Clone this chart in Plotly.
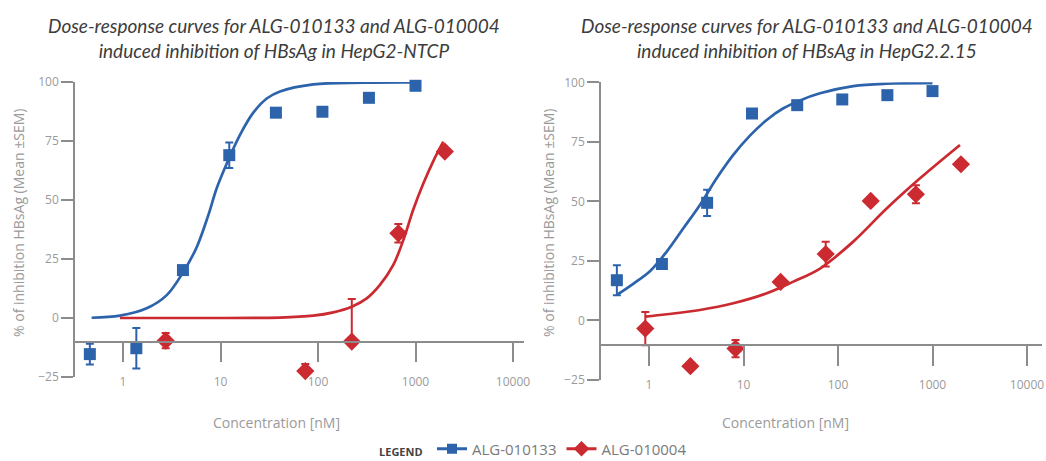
import math
import plotly.graph_objects as go

W, H = 1046, 461

# ---------------- data ----------------
conc_133 = [0.457, 1.37, 4.12, 12.3, 37.0, 111, 333, 1000]
conc_004 = [0.914, 2.74, 8.23, 24.7, 74.1, 222, 667, 2000]

# HepG2-NTCP
ntcp_133_y = [-15.3, -12.8, 20.3, 69.0, 87.0, 87.4, 93.3, 98.4]
ntcp_133_sem = [4.4, 8.6, 0, 5.4, 0, 0, 0, 0]
ntcp_004_x = [2.74, 74.1, 222, 667, 2000]
ntcp_004_y = [-9.6, -22.5, -10.0, 35.9, 70.5]
ntcp_004_sem_plus = [3.2, 3.0, 18.0, 3.9, 0]
ntcp_004_sem_minus = [3.2, 3.0, 0, 3.9, 0]

ntcp_133_fit_x = [0.477, 0.93, 1.75, 2.81, 4.15, 5.70, 7.50, 9.14, 11.6, 15.8, 21.7, 29.8, 40.7, 89.5, 292, 1000]
ntcp_133_fit_y = [0.1, 1.0, 4.1, 9.7, 19.5, 30.0, 43.6, 55.0, 65.5, 77.5, 87.0, 93.0, 96.0, 99.0, 99.7, 99.8]
ntcp_004_fit_x = [0.93, 6.2, 40.7, 89.5, 143.5, 222, 316, 432, 592, 750, 949, 1203, 1523, 1928]
ntcp_004_fit_y = [0.0, 0.0, 0.2, 1.0, 2.4, 4.8, 8.3, 14.0, 22.5, 33.0, 46.0, 57.0, 66.5, 74.7]

# HepG2.2.15
hep_133_y = [16.9, 23.7, 49.4, 86.9, 90.4, 92.8, 94.6, 96.3]
hep_133_sem = [6.3, 0, 5.5, 0, 0, 0, 0, 0]
hep_004_y = [-3.4, -19.2, -11.8, 16.2, 27.9, 50.2, 53.0, 65.6]
hep_004_sem = [7.0, 0, 3.6, 0, 5.2, 0, 3.8, 0]

hep_133_fit_x = [0.455, 0.68, 1.03, 1.54, 2.31, 3.46, 5.2, 7.8, 11.7, 17.6, 26.4, 39.6, 64.5, 145, 327, 1000]
hep_133_fit_y = [10.7, 15.4, 20.8, 28.9, 38.7, 48.5, 59.7, 69.5, 77.6, 84.2, 89.1, 92.4, 95.4, 98.4, 99.4, 99.6]
hep_004_fit_x = [0.914, 1.54, 3.46, 7.8, 17.6, 33.7, 64.5, 145, 327, 738, 1954]
hep_004_fit_y = [1.6, 2.6, 4.4, 7.2, 11.4, 16.3, 21.8, 33.1, 47.0, 59.7, 73.7]

names = ["ALG-010133", "ALG-010004"]
titles = [
    "Dose-response curves for ALG-010133 and ALG-010004<br>induced inhibition of HBsAg in HepG2-NTCP",
    "Dose-response curves for ALG-010133 and ALG-010004<br>induced inhibition of HBsAg in HepG2.2.15",
]
x_ticks = [1, 10, 100, 1000, 10000]
x_tick_text = ["1", "10", "100", "1000", "10000"]
y_ticks = [-25, 0, 25, 50, 75, 100]
y_title = "% of inhibition HBsAg (Mean ±SEM)"
x_title = "Concentration [nM]"

BLUE = "#2d63ab"
RED = "#cb2a30"
AX = "#8c8c8c"
TXT = "#9a9a9a"


def fx(px):
    return px / W


def fy(py):
    return 1 - py / H


fig = go.Figure()


def add_panel(xa, ya, d133, s133, x004, d004, s004p, s004m, f133x, f133y, f004x, f004y):
    fig.add_trace(go.Scatter(x=f133x, y=f133y, mode="lines", line=dict(color=BLUE, width=2.7, shape="spline", smoothing=1.0),
                             xaxis=xa, yaxis=ya, showlegend=False, hoverinfo="skip"))
    fig.add_trace(go.Scatter(x=f004x, y=f004y, mode="lines", line=dict(color=RED, width=2.7, shape="spline", smoothing=1.0),
                             xaxis=xa, yaxis=ya, showlegend=False, hoverinfo="skip"))
    fig.add_trace(go.Scatter(x=conc_133, y=d133, mode="markers",
                             marker=dict(symbol="square", size=12, color=BLUE),
                             error_y=dict(type="data", array=s133, color=BLUE, thickness=2, width=4),
                             xaxis=xa, yaxis=ya, showlegend=False, cliponaxis=False))
    fig.add_trace(go.Scatter(x=x004, y=d004, mode="markers",
                             marker=dict(symbol="diamond", size=14, color=RED),
                             error_y=dict(type="data", symmetric=False, array=s004p, arrayminus=s004m,
                                          color=RED, thickness=2, width=4),
                             xaxis=xa, yaxis=ya, showlegend=False, cliponaxis=False))


add_panel("x", "y", ntcp_133_y, ntcp_133_sem, ntcp_004_x, ntcp_004_y, ntcp_004_sem_plus, ntcp_004_sem_minus,
          ntcp_133_fit_x, ntcp_133_fit_y, ntcp_004_fit_x, ntcp_004_fit_y)
add_panel("x2", "y2", hep_133_y, hep_133_sem, conc_004, hep_004_y, hep_004_sem, hep_004_sem,
          hep_133_fit_x, hep_133_fit_y, hep_004_fit_x, hep_004_fit_y)

# legend entries
fig.add_trace(go.Scatter(x=[None], y=[None], mode="lines+markers", name=names[0],
                         line=dict(color=BLUE, width=3), marker=dict(symbol="square", size=10, color=BLUE)))
fig.add_trace(go.Scatter(x=[None], y=[None], mode="lines+markers", name=names[1],
                         line=dict(color=RED, width=3), marker=dict(symbol="diamond", size=12, color=RED)))

tickfont = dict(family="Open Sans", size=12, color=TXT)

# panel geometry (pixels)
panels = [
    dict(x0=75, x1=524, one=123, dec=97.5, ytop=82, ybot=377, xline=341.6),
    dict(x0=601, x1=1042, one=649, dec=94.5, ytop=82.3, ybot=380, xline=345),
]
for i, p in enumerate(panels):
    lo = -(p["one"] - p["x0"]) / p["dec"]
    hi = lo + (p["x1"] - p["x0"]) / p["dec"]
    xk = "xaxis" if i == 0 else "xaxis2"
    yk = "yaxis" if i == 0 else "yaxis2"
    fig.layout[xk] = dict(type="log", domain=[fx(p["x0"]), fx(p["x1"])], range=[lo, hi],
                          anchor="free", position=fy(p["xline"]),
                          tickvals=x_ticks, ticktext=x_tick_text, ticks="outside", ticklen=20,
                          ticklabelstandoff=9,
                          tickwidth=1.5, tickcolor=AX, showline=True, linecolor=AX, linewidth=1.5,
                          showgrid=False, zeroline=False, tickfont=tickfont)
    fig.layout[yk] = dict(domain=[fy(p["ybot"]), fy(p["ytop"])], range=[-25, 100],
                          anchor="x" if i == 0 else "x2",
                          tickvals=y_ticks, ticks="outside", ticklen=12, tickwidth=1.5, tickcolor=AX,
                          showline=True, linecolor=AX, linewidth=1.5, showgrid=False, zeroline=False,
                          tickfont=tickfont)

annotations = []
for cx, t in [(274, titles[0]), (807, titles[1])]:
    annotations.append(dict(x=fx(cx), y=fy(38), xref="paper", yref="paper", text=t, showarrow=False,
                            xanchor="center", yanchor="middle",
                            font=dict(family="Lato", size=19, color="#3c3c3c", style="italic")))
for cx in [18, 548]:
    annotations.append(dict(x=fx(cx), y=fy(223), xref="paper", yref="paper", text=y_title, showarrow=False,
                            textangle=-90, xanchor="center", yanchor="middle",
                            font=dict(family="Open Sans", size=14, color=TXT)))
for cx in [276, 785]:
    annotations.append(dict(x=fx(cx), y=fy(422), xref="paper", yref="paper", text=x_title, showarrow=False,
                            xanchor="center", yanchor="middle",
                            font=dict(family="Open Sans", size=14, color=TXT)))
annotations.append(dict(x=fx(401), y=fy(451), xref="paper", yref="paper", text="<b>LEGEND</b>", showarrow=False,
                        xanchor="center", yanchor="middle",
                        font=dict(family="Open Sans", size=11, color="#444444")))

fig.update_layout(
    width=W, height=H, margin=dict(l=0, r=0, t=0, b=0, autoexpand=False),
    paper_bgcolor="white", plot_bgcolor="white",
    annotations=annotations,
    showlegend=True,
    legend=dict(orientation="h", x=fx(432), y=fy(449), xanchor="left", yanchor="middle",
                font=dict(family="Open Sans", size=15, color="#7a7a7a"), bgcolor="rgba(0,0,0,0)",
                itemwidth=30, tracegroupgap=0),
)

fig.write_html("out.html", config={"displayModeBar": False},
               post_script="document.body.style.margin='0';document.body.style.overflow='hidden';")
